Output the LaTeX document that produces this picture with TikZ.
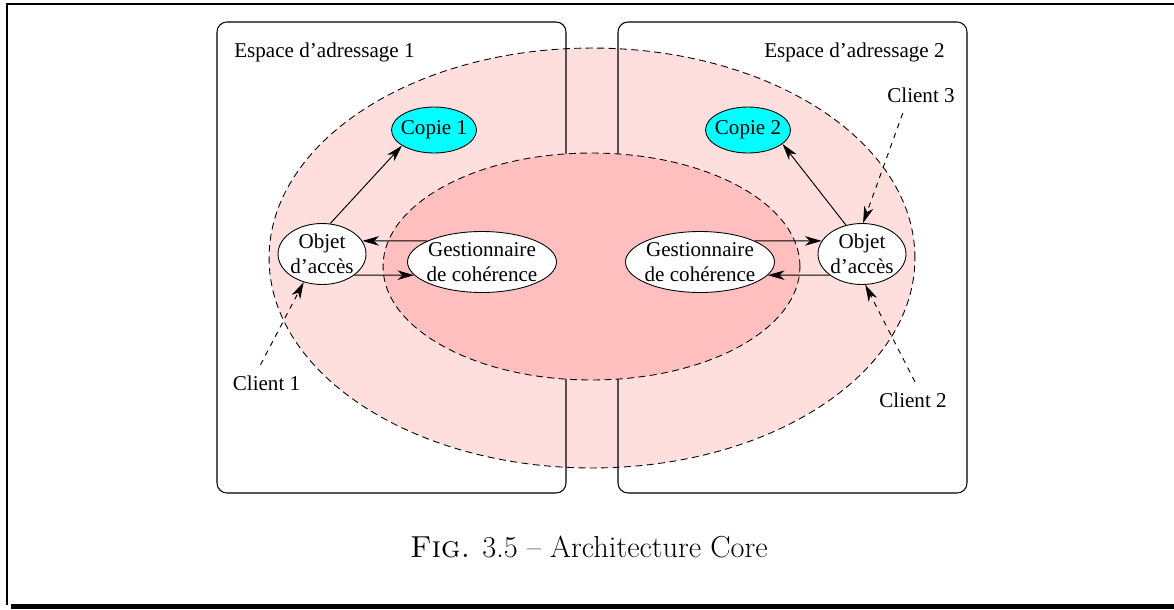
\documentclass[tikz,border=0pt]{standalone}
\usepackage{fontspec}
\newfontfamily\serfont[Ligatures=TeX]{Liberation Serif}
\usetikzlibrary{shapes.geometric,arrows.meta}
\definecolor{zoneout}{RGB}{255,222,222}
\definecolor{zonein}{RGB}{255,191,191}
\definecolor{copcol}{RGB}{0,255,255}

\tikzset{
	fl/.style={line width=0.55pt,-{Stealth[length=9.5pt,width=5.4pt,inset=2.8pt]}},
	zone/.style={dash pattern=on 4pt off 2.5pt,line width=0.5pt},
	space/.style={draw,line width=0.6pt,rounded corners=0.2cm},
	obj/.style={draw,ellipse,fill=white,line width=0.5pt,minimum width=1.76cm,minimum height=1.22cm,inner sep=-5pt,align=center},
	gest/.style={obj,minimum width=2.98cm},
	copie/.style={obj,fill=copcol,minimum width=1.7cm,minimum height=0.92cm},
	client/.style={inner sep=6pt}
}

\begin{document}
\begin{tikzpicture}[x=0.02cm,y=-0.02cm,font=\serfont\fontsize{12}{14}\selectfont]
\useasboundingbox (0,0) rectangle (1174,609);
%Rahmen
\draw[line width=1pt] (1174,4)--(7,4)--(7,605);
\fill (11,604) rectangle (1174,609);
%Zonen und Adressraeume
\draw[zone,fill=zoneout] (592,258) ellipse [x radius=6.46cm,y radius=4.2cm];
\draw[space] (217,22) rectangle (566,493);
\draw[space] (618,22) rectangle (967,493);
\draw[zone,fill=zonein] (591.5,266.5) ellipse [x radius=4.17cm,y radius=2.27cm];
\node[anchor=base west,inner sep=0pt] (espA) at (234,57) {Espace d'adressage 1};
\node[anchor=base east,inner sep=0pt] (espB) at (945,57) {Espace d'adressage 2};
%Objekte
\node[copie] (copA) at (434,130) {Copie 1};
\node[copie] (copB) at (748,130) {Copie 2};
\node[obj] (objA) at (322,254) {Objet\\d'accès};
\node[obj] (objB) at (862,254) {Objet\\d'accès};
\node[gest] (gestA) at (482,262) {Gestionnaire\\de cohérence};
\node[gest] (gestB) at (700,262) {Gestionnaire\\de cohérence};
\node[client] (cl1) at (266.5,383) {Client 1};
\node[client] (cl2) at (913,400) {Client 2};
\node[client] (cl3) at (921,95) {Client 3};
%Pfeile
\draw[fl] (objA.75)--(copA.206);
\draw[fl] (objB.119)--(copB.338);
\draw[fl] (gestA.159)--(objA.18);
\draw[fl] (objA.327)--(gestA.191);
\draw[fl] (gestB.21)--(objB.162);
\draw[fl] (objB.213)--(gestB.349);
\draw[fl,dashed] (cl1.108)--(objA.237);
\draw[fl,dashed] (cl2.84)--(objB.276);
\draw[fl,dashed] (cl3.225)--(objB.88);
%Legende
\node[font=\fontsize{17.28}{21}\selectfont] (cap) at (589,547) {\textsc{Fig.} 3.5 -- Architecture Core};
\end{tikzpicture}
\end{document}
